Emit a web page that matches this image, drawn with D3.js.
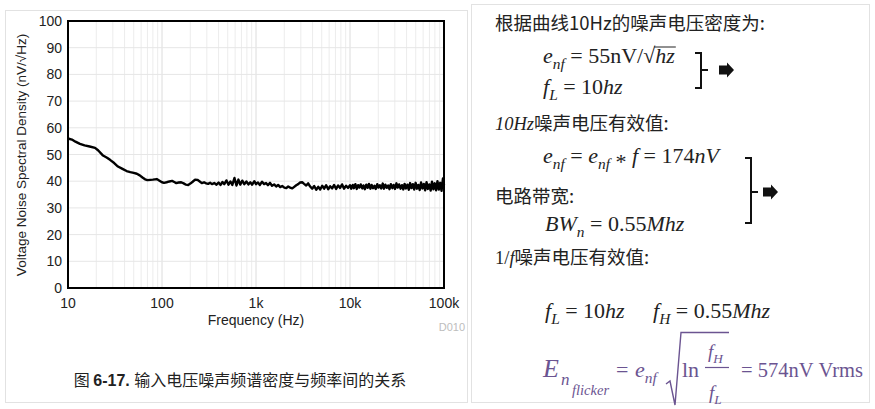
<!DOCTYPE html>
<html>
<head>
<meta charset="utf-8">
<script src="https://cdn.jsdelivr.net/npm/d3@7"></script>
<style>
  html, body { margin: 0; padding: 0; background: #fff; }
  svg { display: block; }
</style>
</head>
<body>
<div id="chart"></div>
<script>
// Voltage noise spectral density: [frequency Hz, nV/rtHz]
const spectrum = [
  [10, 56.0], [11, 55.6], [12, 54.8], [13.4, 54.0], [15, 53.4], [17, 53.0], [19.4, 52.5],
  [21, 51.5], [23.6, 49.6], [26, 48.8], [28, 48.0], [31, 46.8], [34, 45.5], [38, 44.6],
  [42, 43.8], [46, 43.4], [50, 43.1], [54, 42.8], [58, 42.2], [62, 41.4], [66, 40.7],
  [70, 40.4], [75, 40.5], [80, 40.6], [88, 40.8], [94, 40.2], [100, 39.6],
  [105, 39.4], [112, 39.6], [120, 39.9], [128, 40.1], [135, 39.7], [142, 39.3], [150, 39.5],
  [160, 39.6], [170, 39.2], [180, 38.7], [190, 38.6], [200, 39.1], [212, 39.8], [225, 40.6],
  [238, 40.5], [250, 40.0], [265, 39.3], [280, 39.6], [295, 39.2], [310, 39.0], [325, 39.4],
  [340, 38.9], [360, 39.3], [380, 38.7], [400, 39.5], [420, 38.6], [440, 39.7], [460, 38.9],
  [485, 40.3], [510, 38.7], [535, 39.9], [560, 38.6], [590, 41.2], [620, 38.4], [650, 40.6],
  [680, 38.7], [715, 40.2], [750, 38.9], [790, 39.9], [830, 38.8], [870, 39.6], [910, 38.7],
  [960, 40.0], [1000, 38.9],
  [1050, 39.5], [1100, 38.6], [1160, 39.8], [1220, 38.9], [1280, 39.3], [1340, 38.5],
  [1410, 39.4], [1480, 38.3], [1560, 38.8], [1640, 38.0], [1720, 38.6], [1810, 37.8],
  [1900, 38.2], [2000, 37.6], [2100, 37.4], [2200, 38.0], [2310, 37.6], [2430, 37.3],
  [2550, 37.9], [2680, 38.5], [2810, 38.9], [2950, 39.5], [3100, 39.6], [3250, 39.0],
  [3420, 38.4], [3590, 39.2], [3770, 38.0], [3960, 37.2], [4160, 38.2], [4370, 36.8],
  [4590, 37.9], [4820, 36.9], [5060, 38.3], [5310, 37.2], [5580, 38.5], [5860, 37.0],
  [6150, 38.1], [6460, 37.3], [6780, 38.6], [7120, 37.1], [7480, 38.4], [7850, 37.5],
  [8240, 38.8], [8650, 37.2], [9090, 38.3], [9540, 37.5], [10000, 38.5],
  [10300, 37.2], [10700, 38.6], [11000, 37.4], [11400, 38.9], [11800, 37.1], [12200, 38.5],
  [12600, 37.6], [13000, 38.8], [13500, 37.3], [13900, 38.4], [14400, 37.0], [14900, 38.7],
  [15400, 37.5], [15900, 39.0], [16500, 37.2], [17000, 38.6], [17600, 37.4], [18200, 38.3],
  [18800, 37.1], [19500, 38.9], [20100, 37.6], [20800, 38.5], [21500, 37.3], [22300, 39.1],
  [23000, 37.2], [23800, 38.7], [24600, 37.5], [25500, 38.4], [26300, 37.0], [27200, 38.9],
  [28200, 37.4], [29100, 38.6], [30100, 37.1], [31200, 39.2], [32200, 37.6], [33300, 38.8],
  [34500, 37.2], [35700, 38.5], [36900, 36.9], [38100, 39.0], [39400, 37.3], [40800, 38.7],
  [42200, 36.8], [43600, 39.3], [45100, 37.4], [46600, 38.9], [48200, 36.9], [49900, 39.4],
  [51600, 37.2], [53300, 38.6], [55100, 36.7], [57000, 39.5], [59000, 37.3], [61000, 39.0],
  [63000, 36.6], [65200, 39.6], [67400, 37.1], [69700, 38.8], [72100, 36.5], [74500, 39.8],
  [77100, 37.0], [79700, 39.2], [82400, 36.6], [85200, 40.0], [88100, 36.9], [91100, 39.4],
  [94200, 36.4], [97400, 41.0], [100000, 38.5]
];

const xTicks = [10, 100, 1000, 10000, 100000];
const xTickLabels = ["10", "100", "1k", "10k", "100k"];
const yTicks = [0, 10, 20, 30, 40, 50, 60, 70, 80, 90, 100];

const width = 875;
const height = 409;
const plot = { left: 68, right: 444, top: 21, bottom: 288 };

const sans = "'Liberation Sans', Arial, sans-serif";
const cjk = "'Noto Sans CJK SC', sans-serif";
const mathFont = "'Liberation Serif', 'Times New Roman', serif";
const purple = "#6b5491";

const svg = d3.select("#chart")
    .append("svg")
    .attr("width", width)
    .attr("height", height);

// panel frames
svg.append("rect")
    .attr("x", 5.5).attr("y", 10.5).attr("width", 462).attr("height", 392)
    .attr("fill", "none").attr("stroke", "#e2e2e2");
svg.append("rect")
    .attr("x", 471.5).attr("y", 4.5).attr("width", 398).attr("height", 398)
    .attr("fill", "none").attr("stroke", "#e2e2e2");

const x = d3.scaleLog()
    .domain([10, 100000])
    .range([plot.left, plot.right]);

const y = d3.scaleLinear()
    .domain([0, 100])
    .range([plot.bottom, plot.top]);

// grid
const minor = [];
for (let d = 10; d < 100000; d *= 10) {
    for (let m = 1; m < 10; m++) minor.push(d * m);
}
svg.append("g")
    .selectAll("line")
    .data(minor)
    .enter().append("line")
    .attr("x1", d => x(d)).attr("x2", d => x(d))
    .attr("y1", plot.top).attr("y2", plot.bottom)
    .attr("stroke", d => xTicks.includes(d) ? "#dcdcdc" : "#ececec")
    .attr("stroke-width", 1);

svg.append("g")
    .selectAll("line")
    .data(yTicks)
    .enter().append("line")
    .attr("x1", plot.left).attr("x2", plot.right)
    .attr("y1", d => y(d)).attr("y2", d => y(d))
    .attr("stroke", "#e6e6e6")
    .attr("stroke-width", 1);

// curve
const line = d3.line()
    .x(d => x(d[0]))
    .y(d => y(d[1]));

svg.append("path")
    .datum(spectrum)
    .attr("d", line)
    .attr("fill", "none")
    .attr("stroke", "#000")
    .attr("stroke-width", 2.4)
    .attr("stroke-linejoin", "round");

// frame
svg.append("rect")
    .attr("x", plot.left).attr("y", plot.top)
    .attr("width", plot.right - plot.left)
    .attr("height", plot.bottom - plot.top)
    .attr("fill", "none")
    .attr("stroke", "#000")
    .attr("stroke-width", 2);

// tick labels
svg.append("g")
    .selectAll("text")
    .data(yTicks)
    .enter().append("text")
    .attr("x", 62)
    .attr("y", d => y(d) + 5)
    .attr("text-anchor", "end")
    .attr("font-family", sans)
    .attr("font-size", 14)
    .attr("fill", "#222")
    .text(d => d);

svg.append("g")
    .selectAll("text")
    .data(xTicks)
    .enter().append("text")
    .attr("x", d => x(d))
    .attr("y", 308)
    .attr("text-anchor", "middle")
    .attr("font-family", sans)
    .attr("font-size", 14)
    .attr("fill", "#222")
    .text((d, i) => xTickLabels[i]);

svg.append("text")
    .attr("x", 256).attr("y", 325)
    .attr("text-anchor", "middle")
    .attr("font-family", sans)
    .attr("font-size", 14)
    .attr("fill", "#222")
    .text("Frequency (Hz)");

svg.append("text")
    .attr("transform", "translate(26,155) rotate(-90)")
    .attr("text-anchor", "middle")
    .attr("font-family", sans)
    .attr("font-size", 13.5)
    .attr("fill", "#222")
    .text("Voltage Noise Spectral Density (nV/\u221AHz)");

svg.append("text")
    .attr("x", 465).attr("y", 331)
    .attr("text-anchor", "end")
    .attr("font-family", sans)
    .attr("font-size", 11)
    .attr("fill", "#bdbdbd")
    .text("D010");

const caption = svg.append("text")
    .attr("x", 240).attr("y", 386)
    .attr("text-anchor", "middle")
    .attr("font-family", cjk)
    .attr("font-size", 16)
    .attr("fill", "#222");
caption.append("tspan").text("图 ");
caption.append("tspan").attr("font-family", sans).attr("font-weight", "bold").text("6-17. ");
caption.append("tspan").text("输入电压噪声频谱密度与频率间的关系");

// right panel: flowing runs of text, flags: i italic, s subscript, c cjk, l lowered
function flow(g, x0, y0, runs, size, color) {
    let cx = x0;
    const pos = [];
    runs.forEach(r => {
        const [str, flags = ""] = r;
        const sub = flags.includes("s");
        const fs = sub ? size * 0.7 : size;
        const shift = sub ? size * 0.28 : (flags.includes("l") ? size * 0.25 : 0);
        const t = g.append("text")
            .attr("x", cx)
            .attr("y", y0 + shift)
            .attr("font-family", flags.includes("c") ? cjk : mathFont)
            .attr("font-size", fs)
            .attr("font-style", flags.includes("i") ? "italic" : "normal")
            .attr("fill", color || "#222")
            .text(str);
        const w = t.node().getComputedTextLength();
        pos.push([cx, cx + w]);
        cx += w;
    });
    return pos;
}

const right = svg.append("g");
const nb = "\u00a0";
const mathSize = 22;
const cjkSize = 18.5;

flow(right, 495, 30, [["根据曲线10Hz的噪声电压密度为:", "c"]], cjkSize);

const m1 = flow(right, 543, 63, [
    ["e", "i"], ["nf", "is"], [nb + "=" + nb + "55nV/\u221A"], ["hz", "i"]
], mathSize);
right.append("line")
    .attr("x1", m1[3][0] - 1).attr("x2", m1[3][1] + 1)
    .attr("y1", 63 - 16).attr("y2", 63 - 16)
    .attr("stroke", "#222").attr("stroke-width", 1);

flow(right, 543, 94, [["f", "i"], ["L", "is"], [nb + "=" + nb + "10"], ["hz", "i"]], mathSize);

flow(right, 495, 130, [["10Hz", "i"], ["噪声电压有效值:", "c"]], cjkSize);

flow(right, 543, 163, [
    ["e", "i"], ["nf", "is"], [nb + "=" + nb], ["e", "i"], ["nf", "is"],
    [nb], ["*", "l"], [nb], ["f", "i"], [nb + "=" + nb + "174"], ["nV", "i"]
], mathSize);

flow(right, 495, 203, [["电路带宽:", "c"]], cjkSize);

flow(right, 545, 231, [["BW", "i"], ["n", "is"], [nb + "=" + nb + "0.55"], ["Mhz", "i"]], mathSize);

flow(right, 495, 264, [["1/"], ["f", "i"], ["噪声电压有效值:", "c"]], cjkSize);

flow(right, 545, 318, [["f", "i"], ["L", "is"], [nb + "=" + nb + "10"], ["hz", "i"]], mathSize);
flow(right, 653, 318, [["f", "i"], ["H", "is"], [nb + "=" + nb + "0.55"], ["Mhz", "i"]], mathSize);

// flicker noise formula
const eq = svg.append("g");
flow(eq, 543, 377, [["E", "i"]], 26, purple);
flow(eq, 561, 385, [["n", "i"]], 17, purple);
flow(eq, 572, 395, [["flicker", "i"]], 14.5, purple);
flow(eq, 616, 377, [["="]], 22, purple);
flow(eq, 635, 377, [["e", "i"], ["nf", "is"]], 22, purple);
eq.append("path")
    .attr("d", "M666,384 L670,381 L675,405 L681,332.5 L729,332.5")
    .attr("fill", "none").attr("stroke", purple).attr("stroke-width", 1.4);
flow(eq, 682, 377, [["ln"]], 22, purple);
flow(eq, 708, 358, [["f", "i"], ["H", "is"]], 19, purple);
eq.append("line")
    .attr("x1", 705).attr("x2", 729).attr("y1", 367.5).attr("y2", 367.5)
    .attr("stroke", purple).attr("stroke-width", 1.2);
flow(eq, 709, 399, [["f", "i"], ["L", "is"]], 19, purple);
flow(eq, 741, 377, [["=" + nb + "574nV" + nb + "Vrms"]], 20.5, purple);

// brackets and arrows
function bracket(x0, y1, y2, ym) {
    svg.append("path")
        .attr("d", `M${x0 - 6},${y1} H${x0} V${y2} H${x0 - 6} M${x0},${ym} H${x0 + 7}`)
        .attr("fill", "none").attr("stroke", "#111").attr("stroke-width", 2);
}
function arrow(x0, ym) {
    svg.append("path")
        .attr("d", `M${x0},${ym - 4.5} H${x0 + 8} V${ym - 7.5} L${x0 + 15},${ym} L${x0 + 8},${ym + 7.5} V${ym + 4.5} H${x0} Z`)
        .attr("fill", "#111");
}
bracket(701, 53, 88, 70);
arrow(719, 70);
bracket(751, 158, 223, 192);
arrow(763, 192);
</script>
</body>
</html>
